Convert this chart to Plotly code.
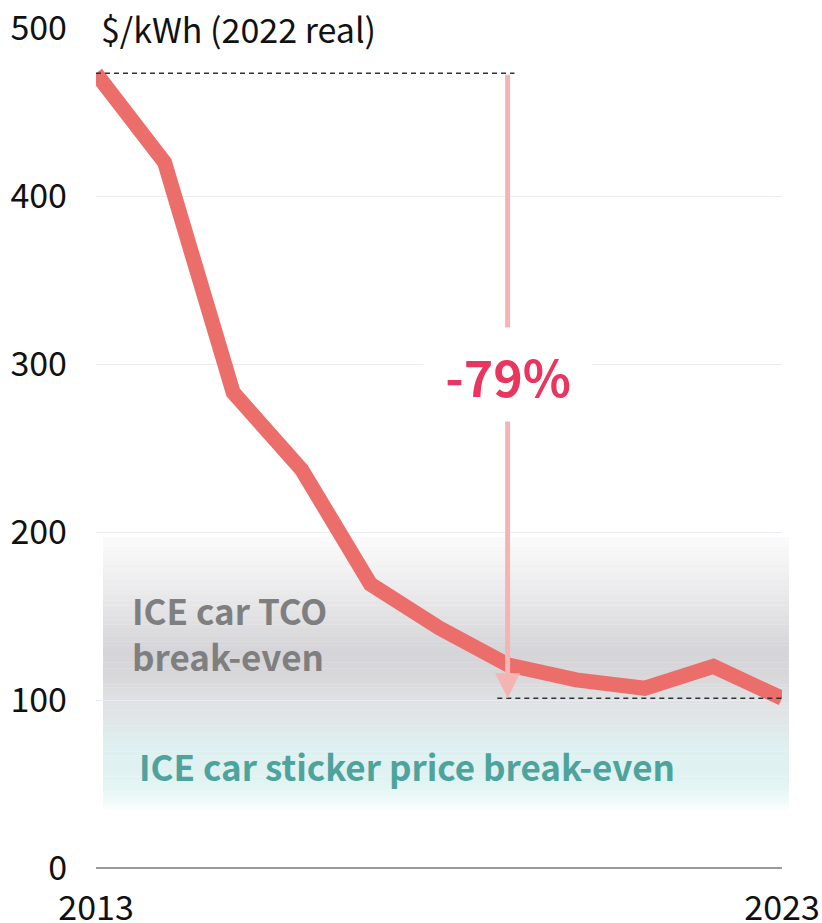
import plotly.graph_objects as go

# ---- data ----
years = [2013, 2014, 2015, 2016, 2017, 2018, 2019, 2020, 2021, 2022, 2023]
prices = [473, 420, 283, 237, 169, 143, 121, 112, 107, 120, 101]
y_ticks = [0, 100, 200, 300, 400, 500]
x_ticks = [2013, 2023]
x_tick_labels = ["2013", "2023"]
unit_label = "$/kWh (2022 real)"
change_label = "-79%"
tco_label = "ICE car TCO<br>break-even"
sticker_label = "ICE car sticker price break-even"

# band gradient stops (value, colour)
band_stops = [
    (197, (251, 251, 251)),
    (175, (240, 240, 241)),
    (150, (226, 226, 228)),
    (130, (213, 213, 217)),
    (115, (215, 215, 218)),
    (100, (224, 225, 227)),
    (85, (225, 231, 232)),
    (72, (222, 240, 239)),
    (52, (224, 243, 242)),
    (42, (236, 248, 247)),
    (33, (255, 255, 255)),
]

FONT = "Noto Sans CJK JP"
fig = go.Figure()

# gradient band (decoration) built from the stops
shapes = []
n_sub = 8
for (v0, c0), (v1, c1) in zip(band_stops[:-1], band_stops[1:]):
    for k in range(n_sub):
        t0 = k / n_sub
        t1 = (k + 1) / n_sub
        tm = (t0 + t1) / 2
        col = tuple(round(a + (b - a) * tm) for a, b in zip(c0, c1))
        ya = v0 + (v1 - v0) * t0
        yb = v0 + (v1 - v0) * t1
        shapes.append(dict(
            type="rect", xref="paper", yref="paper",
            x0=0.0102, x1=1.0102, y0=ya / 500, y1=yb / 500 - 0.0004,
            fillcolor="rgb(%d,%d,%d)" % col, line=dict(width=0), layer="below",
        ))

fig.add_trace(go.Scatter(
    x=years, y=prices, mode="lines",
    line=dict(color="#ec6e6b", width=15),
    hoverinfo="skip", showlegend=False,
))

# dashed reference lines
shapes.append(dict(type="line", xref="x", yref="y",
                   x0=years[0], x1=2019.1, y0=prices[0], y1=prices[0],
                   line=dict(color="#333333", width=1.5, dash="5px,4px"), layer="above"))
shapes.append(dict(type="line", xref="x", yref="y",
                   x0=2018.85, x1=years[-1], y0=prices[-1], y1=prices[-1],
                   line=dict(color="#333333", width=1.5, dash="5px,4px"), layer="above"))

annotations = []
# arrow
annotations.append(dict(
    x=2019, y=prices[-1], ax=2019, ay=prices[0], xref="x", yref="y",
    axref="x", ayref="y", text="", showarrow=True,
    arrowhead=2, arrowsize=1.0, arrowwidth=5, arrowcolor="#f5b4b4", standoff=0,
))
annotations.append(dict(
    x=2019, y=294, xref="x", yref="y", text="<b>%s</b>" % change_label,
    showarrow=False, bgcolor="white", width=164, height=89, borderpad=2,
    font=dict(family=FONT, size=50, color="#e8365f"),
))
annotations.append(dict(
    x=0.004, y=1.0, xref="paper", yref="paper", xanchor="left", yanchor="middle",
    text=unit_label, showarrow=False,
    font=dict(family=FONT, size=34, color="#111111"),
))
annotations.append(dict(
    x=0.05, y=140, xref="paper", yref="y", xanchor="left", yanchor="middle",
    text="<b>%s</b>" % tco_label, showarrow=False, align="left",
    font=dict(family=FONT, size=35, color="#7f7f7f"),
))
annotations.append(dict(
    x=0.06, y=61, xref="paper", yref="y", xanchor="left", yanchor="middle",
    text="<b>%s</b>" % sticker_label, showarrow=False, align="left",
    font=dict(family=FONT, size=35, color="#4fa39d"),
))

fig.update_layout(
    width=822, height=923,
    margin=dict(l=96, r=40, t=28, b=55),
    paper_bgcolor="white", plot_bgcolor="white",
    shapes=shapes, annotations=annotations,
    showlegend=False,
    font=dict(family=FONT, size=34, color="#111111"),
)
fig.update_xaxes(
    range=[2013, 2023], tickvals=x_ticks, ticktext=x_tick_labels,
    showgrid=False, zeroline=False, showline=False, ticks="",
    tickfont=dict(family=FONT, size=34, color="#111111"),
    ticklabelstandoff=17, automargin=False, ticklabeloverflow="allow",
)
fig.update_yaxes(
    range=[0, 500], tickvals=y_ticks, showgrid=True, gridcolor="#ebebf3",
    gridwidth=1, zeroline=True, zerolinecolor="#9a9a9a", zerolinewidth=2,
    showline=False, ticks="",
    tickfont=dict(family=FONT, size=34, color="#111111"),
    ticklabelstandoff=28, automargin=False, ticklabeloverflow="allow",
)

# remove the default page margin so the figure fills the window exactly
fig.write_html("out.html", config={"displayModeBar": False},
               post_script="document.body.style.margin='0';")
